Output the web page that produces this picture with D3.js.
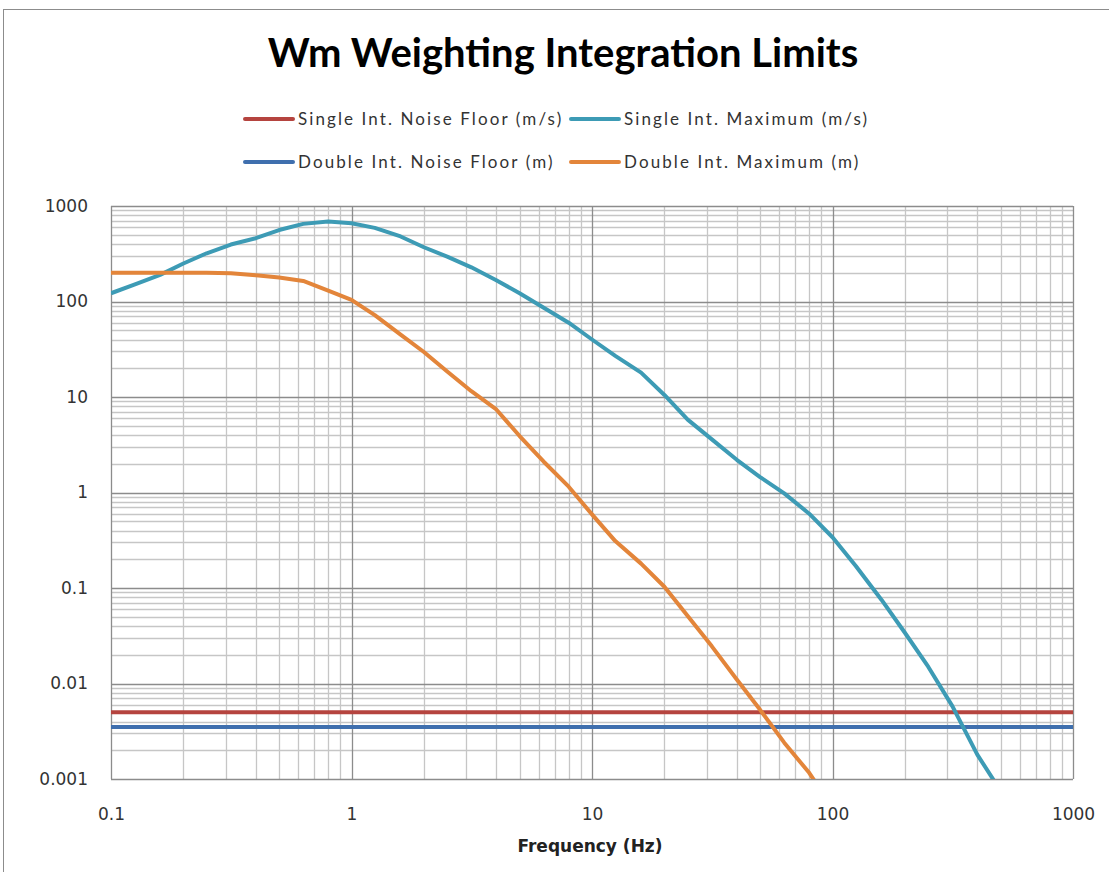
<!DOCTYPE html>
<html>
<head>
<meta charset="utf-8">
<script src="https://cdn.jsdelivr.net/npm/d3@7"></script>
<style>
  body { margin: 0; background: #fff; }
  text { font-family: "DejaVu Sans", Verdana, sans-serif; fill: #333; }
</style>
</head>
<body>
<svg id="chart"></svg>
<script>
// frequencies (Hz), third-octave points
const freqs = [0.1, 0.125, 0.16, 0.2, 0.25, 0.315, 0.4, 0.5, 0.63, 0.8, 1, 1.25, 1.6, 2, 2.5, 3.15, 4, 5, 6.3, 8,
  10, 12.5, 16, 20, 25, 31.5, 40, 50, 63, 80, 100, 125, 160, 200, 250, 315, 400, 500];

const singleMax = [122, 150, 190, 250, 320, 395, 460, 560, 650, 690, 660, 590, 480, 370, 295, 228, 167, 122, 86, 60,
  40, 27, 18, 10.5, 5.8, 3.6, 2.2, 1.45, 0.98, 0.6, 0.34, 0.17, 0.075, 0.034, 0.015, 0.0058, 0.0018, 0.00075];

const doubleMax = [200, 200, 200, 200, 200, 198, 188, 178, 164, 130, 104, 72, 45, 29.6, 18.5, 11.5, 7.4, 3.9, 2.1, 1.15,
  0.59, 0.31, 0.18, 0.103, 0.051, 0.0245, 0.011, 0.0053, 0.0024, 0.00116, 0.0005, 0.0002, 0.00008, 0.00004, 0.00002, 0.00001, 0.000005, 0.000002];

const singleFloor = 0.005;
const doubleFloor = 0.0035;

const xTicks = [0.1, 1, 10, 100, 1000];
const yTicks = [0.001, 0.01, 0.1, 1, 10, 100, 1000];

const legendItems = [
  { name: "Single Int. Noise Floor (m/s)", color: "#b5443f" },
  { name: "Single Int. Maximum (m/s)", color: "#3d9bb5" },
  { name: "Double Int. Noise Floor (m)", color: "#3f6fae" },
  { name: "Double Int. Maximum (m)", color: "#e3853a" }
];

const width = 1109;
const height = 872;
const margin = { left: 111, right: 36, top: 206, bottom: 93 };

const svg = d3.select("#chart")
  .attr("width", width)
  .attr("height", height);

// chart frame
svg.append("rect")
  .attr("x", 3.5).attr("y", 9.5)
  .attr("width", width).attr("height", height)
  .attr("fill", "none")
  .attr("stroke", "#8c8c8c");

const xScale = d3.scaleLog()
  .domain([0.1, 1000])
  .range([margin.left, width - margin.right]);

const yScale = d3.scaleLog()
  .domain([0.001, 1000])
  .range([height - margin.bottom, margin.top]);

// minor grid values
const minorX = [];
for (let d = 0.1; d < 1000; d *= 10) {
  for (let k = 2; k <= 9; k++) minorX.push(d * k);
}
const minorY = [];
for (let d = 0.001; d < 1000; d *= 10) {
  for (let k = 2; k <= 9; k++) minorY.push(d * k);
}

const grid = svg.append("g");

grid.selectAll(".minor-x")
  .data(minorX)
  .enter().append("line")
  .attr("x1", d => Math.round(xScale(d)) + 0.5)
  .attr("x2", d => Math.round(xScale(d)) + 0.5)
  .attr("y1", yScale(1000))
  .attr("y2", yScale(0.001))
  .attr("stroke", "#c6c6c6")
  .attr("stroke-width", 1.3);

grid.selectAll(".minor-y")
  .data(minorY)
  .enter().append("line")
  .attr("x1", xScale(0.1))
  .attr("x2", xScale(1000))
  .attr("y1", d => Math.round(yScale(d)) + 0.5)
  .attr("y2", d => Math.round(yScale(d)) + 0.5)
  .attr("stroke", "#c6c6c6")
  .attr("stroke-width", 1.3);

grid.selectAll(".major-x")
  .data(xTicks)
  .enter().append("line")
  .attr("x1", d => Math.round(xScale(d)) + 0.5)
  .attr("x2", d => Math.round(xScale(d)) + 0.5)
  .attr("y1", yScale(1000))
  .attr("y2", yScale(0.001))
  .attr("stroke", "#8c8c8c")
  .attr("stroke-width", 1.3);

grid.selectAll(".major-y")
  .data(yTicks)
  .enter().append("line")
  .attr("x1", xScale(0.1))
  .attr("x2", xScale(1000))
  .attr("y1", d => Math.round(yScale(d)) + 0.5)
  .attr("y2", d => Math.round(yScale(d)) + 0.5)
  .attr("stroke", "#8c8c8c")
  .attr("stroke-width", 1.3);

// axes labels
const xAxis = d3.axisBottom(xScale)
  .tickValues(xTicks)
  .tickFormat(d => String(d))
  .tickSize(0)
  .tickPadding(29);

svg.append("g")
  .attr("transform", `translate(0, ${height - margin.bottom})`)
  .call(xAxis)
  .call(g => g.select(".domain").remove())
  .selectAll("text")
  .attr("font-size", 17)
  .attr("font-family", "DejaVu Sans")
  .attr("fill", "#333");

const yAxis = d3.axisLeft(yScale)
  .tickValues(yTicks)
  .tickFormat(d => String(d))
  .tickSize(0)
  .tickPadding(23);

svg.append("g")
  .attr("transform", `translate(${margin.left}, 0)`)
  .call(yAxis)
  .call(g => g.select(".domain").remove())
  .selectAll("text")
  .attr("font-size", 17)
  .attr("font-family", "DejaVu Sans")
  .attr("fill", "#333");

// series lines
svg.append("clipPath")
  .attr("id", "plot-clip")
  .append("rect")
  .attr("x", xScale(0.1))
  .attr("y", yScale(1000))
  .attr("width", xScale(1000) - xScale(0.1))
  .attr("height", yScale(0.001) - yScale(1000));

const plot = svg.append("g").attr("clip-path", "url(#plot-clip)");

const line = d3.line()
  .x(d => xScale(d[0]))
  .y(d => yScale(d[1]));

const series = [
  { values: xTicks.map(f => [f, singleFloor]), color: legendItems[0].color },
  { values: xTicks.map(f => [f, doubleFloor]), color: legendItems[2].color },
  { values: freqs.map((f, i) => [f, singleMax[i]]), color: legendItems[1].color },
  { values: freqs.map((f, i) => [f, doubleMax[i]]), color: legendItems[3].color }
];

plot.selectAll(".series")
  .data(series)
  .enter().append("path")
  .attr("d", d => line(d.values))
  .attr("fill", "none")
  .attr("stroke", d => d.color)
  .attr("stroke-width", 4)
  .attr("stroke-linejoin", "round");

// title
svg.append("text")
  .attr("x", 563)
  .attr("y", 67)
  .attr("text-anchor", "middle")
  .style("font-family", "Lato, 'Open Sans', sans-serif")
  .style("font-weight", "bold")
  .style("font-size", "40px")
  .style("fill", "#000")
  .text("Wm Weighting Integration Limits");

// legend
const legendPos = [[245, 119], [571, 119], [245, 162], [571, 162]];
const legend = svg.selectAll(".legend")
  .data(legendItems)
  .enter().append("g")
  .attr("transform", (d, i) => `translate(${legendPos[i][0]}, ${legendPos[i][1]})`);

legend.append("line")
  .attr("x1", 0).attr("x2", 48)
  .attr("stroke", d => d.color)
  .attr("stroke-width", 4)
  .attr("stroke-linecap", "round");

legend.append("text")
  .attr("x", 53)
  .attr("dy", "0.35em")
  .style("font-size", "17px")
  .style("font-family", "Lato, sans-serif")
  .style("letter-spacing", "2.1px")
  .text(d => d.name);

// x-axis title
svg.append("text")
  .attr("x", 590)
  .attr("y", 852)
  .attr("text-anchor", "middle")
  .style("font-weight", "bold")
  .style("font-size", "17px")
  .style("fill", "#222")
  .text("Frequency (Hz)");
</script>
</body>
</html>
